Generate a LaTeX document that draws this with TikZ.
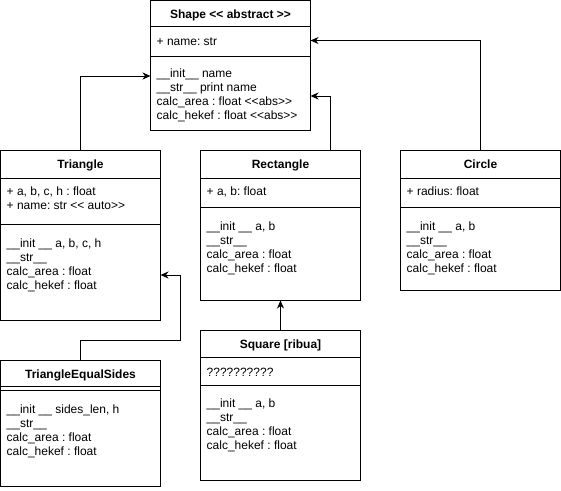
\documentclass[tikz,border=0pt]{standalone}
\usepackage{fontspec}
\setmainfont{Liberation Sans}[Ligatures=TeXOff]
\usetikzlibrary{arrows.meta}
\frenchspacing
\newcommand\umlmembers[4]{\foreach \t [count=\i from 0] in {#4}{\node[member] (#1-\i) at (#2,{#3+14*\i}) {\t};}}
\tikzset{
  umlbox/.style={draw=black, line width=1pt, fill=white, anchor=north west, inner sep=0pt, outer sep=0pt, minimum width=160pt},
  member/.style={anchor=base west, inner sep=0pt, font=\frenchspacing\fontsize{12}{14}\selectfont},
  umltitle/.style={anchor=base, inner sep=0pt, font=\frenchspacing\bfseries\fontsize{12}{14}\selectfont},
  divider/.style={line width=1pt},
  arr/.style={line width=1pt, -{Stealth[length=8pt,width=7pt,inset=2.5pt]}}
}
\begin{document}
\begin{tikzpicture}[x=1pt,y=-1pt]
\useasboundingbox (0,0) rectangle (561,490);
% boxes
\node[umlbox, minimum height=130pt] (shape) at (150.5,0.5) {};
\node[umlbox, minimum height=170pt] (tri) at (0.5,150.5) {};
\node[umlbox, minimum height=150pt] (rect) at (200.5,150.5) {};
\node[umlbox, minimum height=140pt] (circ) at (400.5,150.5) {};
\node[umlbox, minimum height=126pt] (tes) at (0.5,360.5) {};
\node[umlbox, minimum height=150pt] (sq) at (200.5,330.5) {};
% dividers
\draw[divider] (shape.north west) ++(0,26) -- ++(160,0);
\draw[divider] (shape.north west) ++(0,56) -- ++(160,0);
\draw[divider] (tri.north west) ++(0,28) -- ++(160,0);
\draw[divider] (tri.north west) ++(0,74) -- ++(160,0);
\draw[divider] (rect.north west) ++(0,28) -- ++(160,0);
\draw[divider] (rect.north west) ++(0,57) -- ++(160,0);
\draw[divider] (circ.north west) ++(0,28) -- ++(160,0);
\draw[divider] (circ.north west) ++(0,57) -- ++(160,0);
\draw[divider] (tes.north west) ++(0,26) -- ++(160,0);
\draw[divider] (tes.north west) ++(0,30) -- ++(160,0);
\draw[divider] (sq.north west) ++(0,27) -- ++(160,0);
\draw[divider] (sq.north west) ++(0,55) -- ++(160,0);
% titles
\node[umltitle] (shape-t) at (230.5,18.5) {Shape << abstract >>};
\node[umltitle] (tri-t) at (80.5,168.5) {Triangle};
\node[umltitle] (rect-t) at (280.5,168.5) {Rectangle};
\node[umltitle] (circ-t) at (480.5,168.5) {Circle};
\node[umltitle] (tes-t) at (80.5,378.5) {TriangleEqualSides};
\node[umltitle] (sq-t) at (280.5,348.5) {Square [ribua]};
% members
\umlmembers{shape-a}{156.5}{45}{{+ name: str}}
\umlmembers{shape-m}{156.5}{77.5}{{\_\_init\_\_ name},{\_\_str\_\_ print name},{calc\_area : float <<abs>>},{calc\_hekef : float <<abs>>}}
\umlmembers{tri-a}{6.5}{195}{{+ a, b, c, h : float},{+ name: str << auto>>}}
\umlmembers{tri-m}{6.5}{247}{{\_\_init \_\_ a, b, c, h},{\_\_str\_\_},{calc\_area : float},{calc\_hekef : float}}
\umlmembers{rect-a}{206.5}{195}{{+ a, b: float}}
\umlmembers{rect-m}{206.5}{230}{{\_\_init \_\_ a, b},{\_\_str\_\_},{calc\_area : float},{calc\_hekef : float}}
\umlmembers{circ-a}{406.5}{195}{{+ radius: float}}
\umlmembers{circ-m}{406.5}{230}{{\_\_init \_\_ a, b},{\_\_str\_\_},{calc\_area : float},{calc\_hekef : float}}
\umlmembers{tes-m}{6.5}{413.5}{{\_\_init \_\_ sides\_len, h},{\_\_str\_\_},{calc\_area : float},{calc\_hekef : float}}
\umlmembers{sq-a}{206.5}{376.5}{{??????????}}
\umlmembers{sq-m}{206.5}{407}{{\_\_init \_\_ a, b},{\_\_str\_\_},{calc\_area : float},{calc\_hekef : float}}
% connectors
\draw[arr] (tri.north) |- (shape.west |- 0,76);
\draw[arr] ([xshift=50pt]rect.north) |- (shape.east |- 0,96);
\draw[arr] (circ.north) |- (shape.east |- 0,40.5);
\draw[arr] (tes.north) -- ++(0,-20) -| (180.5,275) -- (tri.east |- 0,275);
\draw[arr] (sq.north) -- (rect.south);
\end{tikzpicture}
\end{document}
